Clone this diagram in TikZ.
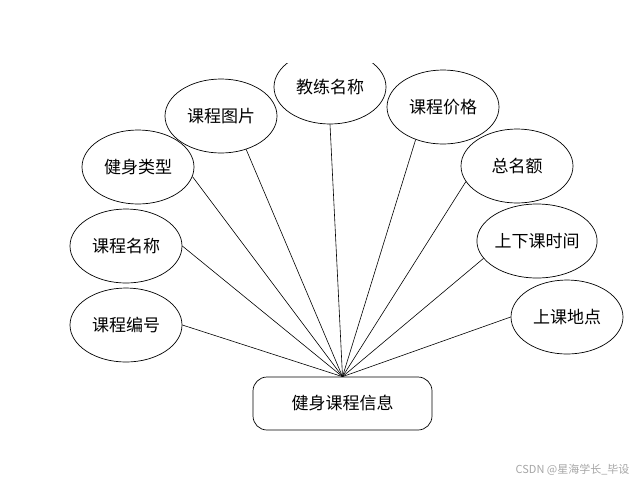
\documentclass[tikz,border=0pt]{standalone}
\usepackage{xcolor}
\usepackage{fontspec}
\usepackage{tikz}
\usetikzlibrary{shapes.geometric}
\newfontfamily\cjk{Noto Sans CJK SC}
\tikzset{
  attr/.style={draw, ellipse, line width=0.7pt, minimum width=112pt, minimum height=74pt,
    inner sep=0pt, font=\cjk\fontsize{17}{20}\selectfont},
  entity/.style={draw, rectangle, rounded corners=14pt, line width=0.7pt, minimum width=179pt,
    minimum height=53pt, inner sep=0pt, font=\cjk\fontsize{17}{20}\selectfont},
  link/.style={line width=0.6pt}
}

\begin{document}
\begin{tikzpicture}[x=1pt, y=-1pt]
  \useasboundingbox (0,0) rectangle (639,483);
  \begin{scope}
  \clip (0,63) rectangle (639,483);
  \node[entity] (info) at (342.5,403.5) {健身课程信息};
  \node[attr] (bianhao) at (126,325) {课程编号};
  \node[attr] (mingcheng) at (126,246) {课程名称};
  \node[attr] (leixing) at (138,167) {健身类型};
  \node[attr] (tupian) at (221,116) {课程图片};
  \node[attr] (jiaolian) at (330,87) {教练名称};
  \node[attr] (jiage) at (443,107) {课程价格};
  \node[attr] (minge) at (517,166) {总名额};
  \node[attr] (shijian) at (537,241) {上下课时间};
  \node[attr] (didian) at (567,317) {上课地点};
  % lines meet at the top of the entity box
  \foreach \a/\p in {bianhao/east, mingcheng/east, leixing/-10, tupian/-53, jiaolian/south,
                     jiage/230, minge/197, shijian/198, didian/west}
    \draw[link] (\a.\p) -- (info.north);
  \end{scope}
  \node[text=black!35, font=\cjk\fontsize{11}{13}\selectfont, anchor=east] (mark) at (633,470) {CSDN @星海学长\_毕设};
\end{tikzpicture}
\end{document}
